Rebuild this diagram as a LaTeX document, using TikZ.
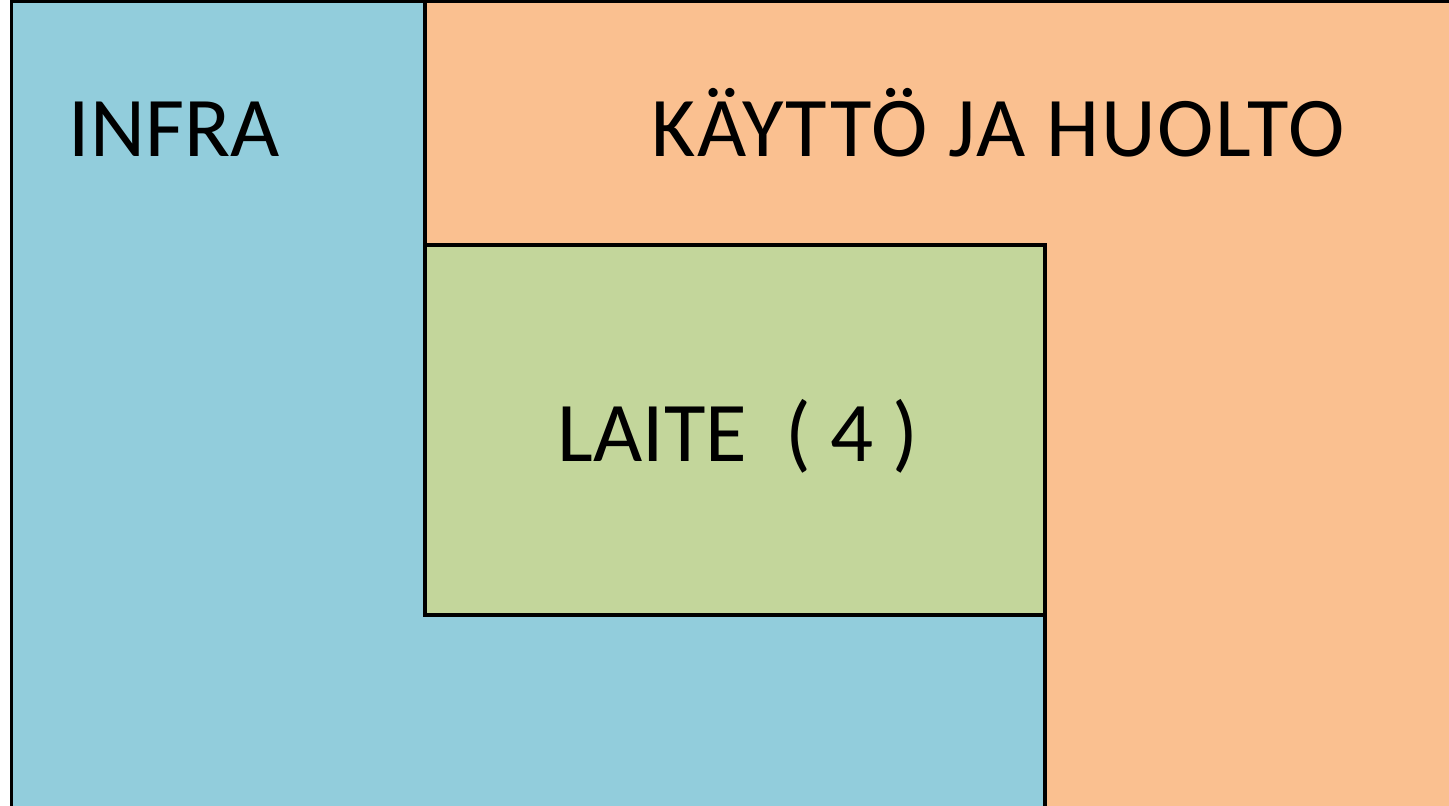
\documentclass[tikz,border=0pt]{standalone}
\usepackage{fontspec}
\setmainfont{Carlito}
\definecolor{infrablue}{HTML}{92CDDC}
\definecolor{huoltoorange}{HTML}{FAC090}
\definecolor{laitegreen}{HTML}{C3D69B}
\begin{document}
\begin{tikzpicture}[x=1pt, y=-1pt, line width=3.5pt,
    areatext/.style={anchor=base west, inner sep=0pt, font=\fontsize{85}{100}\selectfont}]
    \useasboundingbox (0,0) rectangle (1449,806);

    % Areas
    \fill[infrablue] (11.5,0) -- (425,0) -- (425,615) -- (1045,615) -- (1045,806) -- (11.5,806) -- cycle;
    \fill[huoltoorange] (425,0) -- (1449,0) -- (1449,806) -- (1045,806) -- (1045,245) -- (425,245) -- cycle;
    \fill[laitegreen] (425,245) rectangle (1045,615);

    % Borders
    \draw[line width=3pt] (11.5,806) -- (11.5,1.5) -- (1449,1.5);
    \draw (425,0) -- (425,615) -- (1045,615);
    \draw (425,245) -- (1045,245) -- (1045,806);

    % Labels
    \node[areatext] (infra) at (67,156) {INFRA};
    \node[areatext] (huolto) at (650,156) {\addfontfeatures{LetterSpace=2.2}KÄYTTÖ JA HUOLTO};
    \node[areatext] (laite) at (556,461) {LAITE \ ( 4 )};
\end{tikzpicture}
\end{document}
